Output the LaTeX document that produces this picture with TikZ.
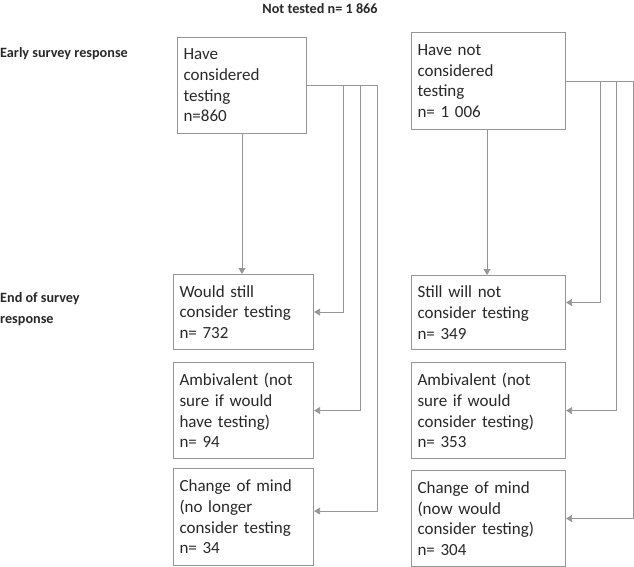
\documentclass[tikz,border=0pt]{standalone}
\usepackage{fontspec}
\setmainfont{Carlito}
\usetikzlibrary{arrows.meta,calc}
\definecolor{boxline}{RGB}{150,150,150}
\definecolor{arrline}{RGB}{150,150,150}
\definecolor{txt}{RGB}{40,40,40}
\tikzset{
  box/.style={draw=boxline, line width=1.1pt, rectangle, inner sep=0pt, align=left,
    font=\fontsize{17}{20.7}\selectfont, text=txt, anchor=north west},
  lbl/.style={font=\bfseries\fontsize{14.2}{21}\selectfont, text=txt, align=left, inner sep=0pt},
  arr/.style={draw=arrline, line width=0.8pt, -{Triangle[width=7pt,length=6pt]}},
}
\begin{document}
\begin{tikzpicture}[x=1pt,y=-1pt]
\useasboundingbox (0,0) rectangle (634,567);
% titles
\node[lbl, anchor=center] (title) at (320,9) {Not tested n= 1 866};
\node[lbl, anchor=west] (early) at (0,54) {Early survey response};
\node[lbl, anchor=west] (endl) at (0,309) {End of survey\\response};
% left column
\node[box, minimum width=129pt, minimum height=96pt, text width=117pt] (b1) at (177,37) {Have\\considered\\testing\\n=860};
\node[box, minimum width=140pt, minimum height=75pt, text width=128pt] (l1) at (173,274) {Would still\\consider testing\\n= 732};
\node[box, minimum width=140pt, minimum height=96pt, text width=128pt] (l2) at (173,362) {Ambivalent (not\\sure if would\\have testing)\\n= 94};
\node[box, minimum width=140pt, minimum height=97pt, text width=128pt] (l3) at (173,468) {Change of mind\\(no longer\\consider testing\\n= 34};
% right column
\node[box, minimum width=154pt, minimum height=97pt, text width=142pt] (r0) at (411,32) {Have not\\considered\\testing\\n= 1 006};
\node[box, minimum width=154pt, minimum height=74pt, text width=142pt] (r1) at (411,275) {Still will not\\consider testing\\n= 349};
\node[box, minimum width=154pt, minimum height=96pt, text width=142pt] (r2) at (411,362) {Ambivalent (not\\sure if would\\consider testing)\\n= 353};
\node[box, minimum width=154pt, minimum height=96pt, text width=142pt] (r3) at (411,470) {Change of mind\\(now would\\consider testing)\\n= 304};
% left arrows
\draw[arr] (b1.south -| 242,0) -- (l1.north -| 242,0);
\draw[arr] (b1.east) -- ++(36,0) |- (l1.east);
\draw[arr] (b1.east) -- ++(53,0) |- (l2.east);
\draw[arr] (b1.east) -- ++(70,0) |- ([yshift=6pt]l3.east);
% right arrows
\draw[arr] (r0.south -| 487,0) -- (r1.north -| 487,0);
\draw[arr] (r0.east) -- ++(34,0) |- ([yshift=10pt]r1.east);
\draw[arr] (r0.east) -- ++(50,0) |- (r2.east);
\draw[arr] (r0.east) -- ++(67,0) |- (r3.east);
\end{tikzpicture}
\end{document}
